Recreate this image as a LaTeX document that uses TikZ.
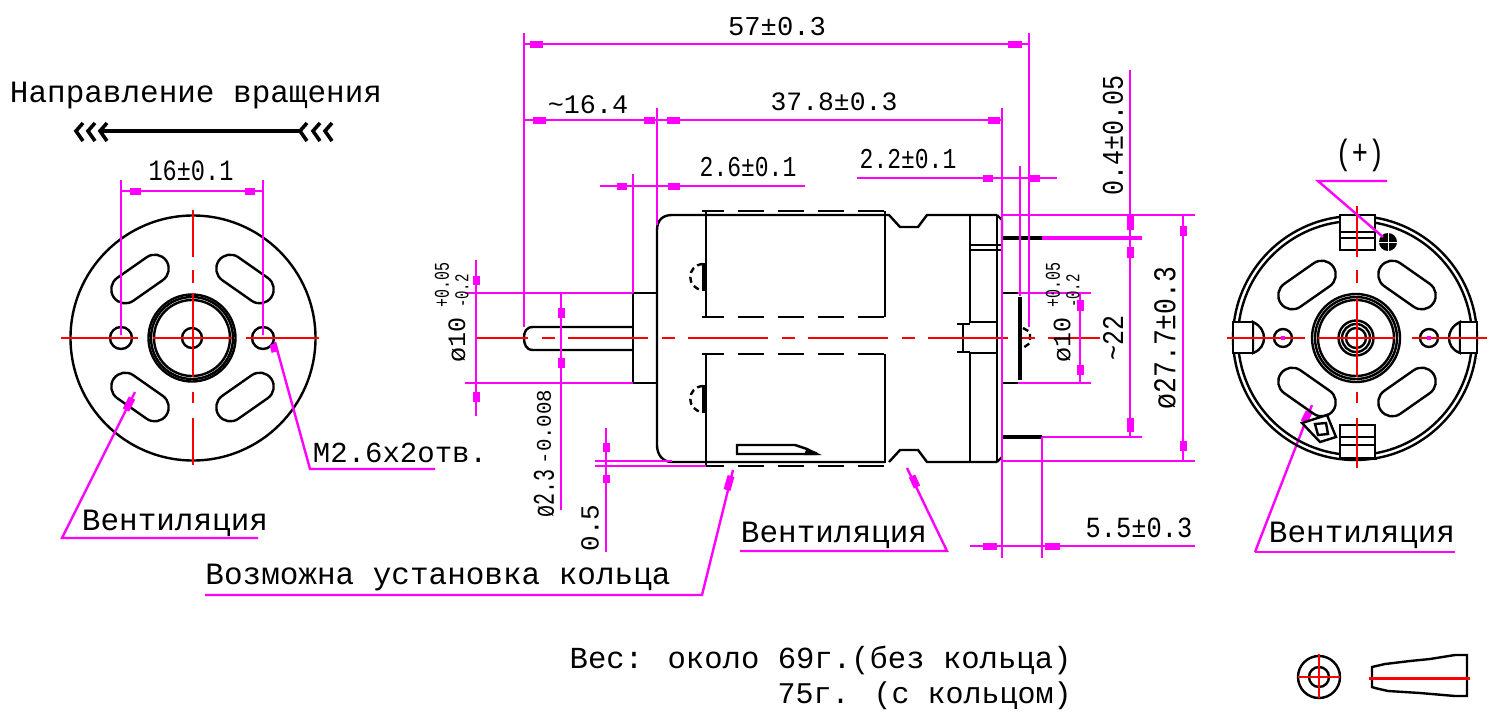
\documentclass[tikz,border=0pt]{standalone}
\usepackage{fontspec}
\setmainfont{Liberation Mono}
\definecolor{pk}{RGB}{255,0,255}
\definecolor{rd}{RGB}{255,0,0}
\newcommand\fsz[1]{\fontsize{#1}{#1}\selectfont}
\newcommand\tallt[2]{\scalebox{1}[#1]{#2}}
\tikzset{
  part/.style={draw=black,line width=1.2pt},
  heavy/.style={draw=black,line width=2.2pt},
  cl/.style={draw=rd,line width=1.2pt},
  dm/.style={draw=pk,line width=1.2pt},
  blob/.style={draw=pk,line width=3.5pt},
  ring/.style={draw=black,line width=1.2pt,dash pattern=on 13pt off 7pt,dash phase=2pt},
  txt/.style={inner sep=0pt,text=black},
}
\newcommand\slotshape[3]{\draw[part,shift={(#1,#2)},rotate=#3,rounded corners=7pt] (-32,-14) rectangle (32,14);}
\begin{document}
\begin{tikzpicture}[x=0.5pt,y=-0.5pt]
\useasboundingbox (0,0) rectangle (1489,713);
\fill[white] (0,0) rectangle (1489,713);
% ---------- rotation arrow
\node[txt] (dirlabel) at (196,96) {\fsz{15.5}Направление вращения};
\draw[line width=2.2pt,black] (100,131)--(302,131);
\foreach \x in {76,88,100,300,313,325}
  \draw[line width=1.8pt,black] (\x+7,123)--(\x,131)--(\x+7,141);
% ---------- left view
\draw[part] (193,338) circle (122.5);
\draw[part] (192,338) circle (43.5);
\draw[part] (192,338) circle (41);
\draw[part] (192,338) circle (38);
\draw[part] (192,338) circle (10);
\draw[part] (121,338) circle (11);
\draw[part] (263,338) circle (11);
\slotshape{140}{279}{35}
\slotshape{245}{279}{-35}
\slotshape{140}{397}{-35}
\slotshape{245}{397}{35}
\foreach \a/\b in {61/138,153/232,246/319} \draw[cl] (\a,338)--(\b,338);
\foreach \a/\b in {210/257,270/283,293/377,392/403,418/465} \draw[cl] (193,\a)--(193,\b);
\draw[dm] (121,180)--(121,335) (263,180)--(263,335) (121,191)--(263,191);
\draw[blob] (130,191)--(141,191) (245,191)--(255,191);
\node[txt] (dimsixteen) at (191,171) {\fsz{11.8}\tallt{1.25}{16±0.1}};
\draw[dm] (258,538)--(62,538)--(135,392);
\draw[blob] (132,398)--(126,410);
\node[txt] (ventA) at (175,523) {\fsz{15.5}Вентиляция};
\draw[dm] (435,469)--(310,469)--(275,342);
\draw[blob] (273,344)--(275,352);
\node[txt] (mlabel) at (400,453) {\fsz{14.5}M2.6x2отв.};
% ---------- motor body
\draw[part] (633,350)--(533,350) .. controls (526,350) and (524,344) .. (524,338) .. controls (524,332) and (526,327) .. (533,327)--(633,327);
\draw[part] (633,293) rectangle (657,383);
\draw[part] (672,215) .. controls (663,215) and (657,220) .. (657,230)--(657,445) .. controls (657,455) and (663,462) .. (672,462)--(885,462);
\draw[part] (672,215)--(889,215)--(900,227)--(918,227)--(927,215)--(997,215);
\draw[part] (889,462)--(900,450)--(918,450)--(927,462)--(997,462);
\draw[part] (706,211)--(706,317) (885,211)--(885,317) (706,354)--(706,467) (885,354)--(885,463);
\draw[ring] (702,211)--(885,211);
\draw[ring] (702,317)--(885,317);
\draw[ring] (702,354)--(885,354);
\draw[ring] (702,466)--(885,466);
\foreach \c in {277,399}{
  \draw[line width=1.8pt] (704,\c-14)--(704,\c+14);
  \draw[part,densely dashed] (703,\c-13) .. controls (686,\c-12) and (686,\c+12) .. (703,\c+13);
}
\draw[part] (737,445)--(795,445)--(807,449)--(817,454)--(737,454)--cycle;
\fill[black] (806,450)--(817,452)--(817,455)--(804,455)--cycle;
\draw[part] (970,215)--(970,322)--(997,322) (970,353)--(970,462) (970,353)--(997,353);
\draw[part] (997,215)--(997,462);
\draw[part] (1002,240)--(1002,457);
\draw[part] (997,215)--(1002,220)--(1002,240);
\draw[part] (997,462)--(1002,457);
\draw[part] (970,245)--(1002,245) (970,250)--(1002,250);
\draw[part] (957,324)--(970,324) (957,352)--(970,352) (963,324)--(963,352);
\draw[part] (1002,293)--(1018,293) (1002,383)--(1018,383);
\draw[heavy] (1020,297)--(1020,380);
\draw[part,densely dashed] (1023,328)--(1030,332)--(1030,343)--(1023,348);
\draw[heavy] (1002,238)--(1042,238) (1002,437)--(1042,437);
% centre line
\foreach \a/\b in {477/528,542/555,568/648,662/675,688/768,782/795,808/888,902/915,928/1008,1022/1035,1048/1100}
  \draw[cl] (\a,338)--(\b,338);
% ---------- dimensions
\draw[dm] (524,33)--(524,327) (1029,33)--(1029,327) (524,44)--(1029,44);
\draw[blob] (530,44)--(543,44) (1008,44)--(1022,44);
\node[txt] (dimfiftyseven) at (777,27) {\fsz{13.6}57±0.3};
\draw[dm] (524,120)--(1002,120) (657,108)--(657,225) (1002,108)--(1002,558);
\draw[blob] (533,120)--(546,120) (644,120)--(655,120) (667,120)--(680,120) (988,120)--(1000,120);
\node[txt] (dimsixteenfour) at (588,105) {\fsz{13.4}\char"7E 16.4};
\node[txt] (dimthirtyseven) at (834,102) {\fsz{13.2}37.8±0.3};
\draw[dm] (600,186)--(805,186) (633,174)--(633,293);
\draw[blob] (617,186)--(627,186) (668,186)--(680,186);
\node[txt] (dimtwosix) at (748,167) {\fsz{11.5}\tallt{1.25}{2.6±0.1}};
\draw[dm] (857,178)--(1057,178) (1020,166)--(1020,296);
\draw[blob] (983,178)--(993,178) (1030,178)--(1040,178);
\node[txt] (dimtwotwo) at (908,159) {\fsz{11.5}\tallt{1.25}{2.2±0.1}};
% right vertical dims
\draw[dm] (1130,70)--(1130,437);
\draw[dm] (1002,215)--(1195,215) (1002,461)--(1195,461) (1042,437)--(1142,437) (1042,437)--(1042,558);
\draw[pk,line width=2.2pt] (1042,238)--(1142,238);
\draw[blob] (1130,216)--(1130,230) (1130,247)--(1130,258) (1130,418)--(1130,432);
\draw[dm] (1183,215)--(1183,461);
\draw[blob] (1183,226)--(1183,236) (1183,441)--(1183,451);
\node[txt,rotate=90] (dimforty) at (1113,135) {\fsz{12.5}\tallt{1.2}{0.4±0.05}};
\node[txt,rotate=90] (dimtwentytwo) at (1113,338) {\fsz{12.5}\tallt{1.2}{\char"7E 22}};
\node[txt,rotate=90] (dimdia) at (1165,338) {\fsz{13.2}\tallt{1.2}{ø27.7±0.3}};
% right phi10
\draw[dm] (1018,293)--(1091,293) (1018,383)--(1091,383) (1080,293)--(1080,383);
\draw[blob] (1080,300)--(1080,311) (1080,365)--(1080,375);
\node[txt,rotate=90] (phiR) at (1062,340) {\fsz{12.5}ø10};
\node[txt,rotate=90] (phiRa) at (1053,285) {\fsz{7.5}\tallt{1.4}{+0.05}};
\node[txt,rotate=90] (phiRb) at (1073,291) {\fsz{7}\tallt{1.4}{-0.2}};
% left phi10
\draw[dm] (476,260)--(476,416) (465,293)--(633,293) (465,383)--(633,383);
\draw[blob] (476,276)--(476,285) (476,392)--(476,402);
\node[txt,rotate=90] (phiL) at (457,340) {\fsz{12.5}ø10};
\node[txt,rotate=90] (phiLa) at (442,285) {\fsz{7.5}\tallt{1.4}{+0.05}};
\node[txt,rotate=90] (phiLb) at (462,291) {\fsz{7}\tallt{1.4}{-0.2}};
% shaft diameter
\draw[dm] (561,293)--(561,510);
\draw[blob] (561,308)--(561,318) (561,358)--(561,368);
\node[txt,rotate=90] (shaftA) at (544,493) {\fsz{10}\tallt{1.5}{ø2.3}};
\node[txt,rotate=90] (shaftB) at (544,427) {\fsz{10.4}-0.008};
% 0.5
\draw[dm] (606,428)--(606,552) (595,461)--(672,461) (595,466)--(706,466);
\draw[blob] (606,443)--(606,452) (606,475)--(606,483);
\node[txt,rotate=90] (dimhalf) at (590,528) {\fsz{13}0.5};
% 5.5
\draw[dm] (970,546)--(1195,546);
\draw[blob] (983,546)--(997,546) (1045,546)--(1060,546);
\node[txt] (dimfivefive) at (1139,528) {\fsz{12.7}\tallt{1.15}{5.5±0.3}};
% leaders
\draw[dm] (740,551)--(947,551)--(907,468);
\draw[blob] (912,476)--(917,487);
\node[txt] (ventB) at (834,535) {\fsz{15.5}Вентиляция};
\draw[dm] (205,595)--(702,595)--(733,470);
\draw[blob] (731,476)--(727,490);
\node[txt] (ringlabel) at (438,577) {\fsz{15.5}Возможна установка кольца};
\draw[dm] (1255,552)--(1455,552);
\draw[dm] (1255,552)--(1312,405);
\draw[blob] (1309,412)--(1304,422);
\node[txt] (ventC) at (1362,535) {\fsz{15.5}Вентиляция};
% ---------- right view
\draw[part] (1355,338) circle (122);
\draw[part] (1355,338) circle (117);
\draw[part] (1356,338) circle (44);
\draw[part] (1356,338) circle (41);
\draw[part] (1356,338) circle (38);
\draw[part] (1356,338) circle (17.5);
\draw[part] (1356,338) circle (14);
\draw[part] (1356,338) circle (10);
\draw[part] (1283,338) circle (9);
\draw[part] (1429,338) circle (9);
\slotshape{1307}{285}{35}
\slotshape{1407}{285}{-35}
\slotshape{1307}{392}{-35}
\slotshape{1407}{392}{35}
\draw[part,fill=white] (1340,215) rectangle (1375,250);
\draw[part] (1340,232)--(1375,232) (1340,238)--(1375,238);
\draw[part,fill=white] (1340,425) rectangle (1375,458);
\draw[part] (1340,437)--(1375,437) (1340,445)--(1375,445) (1337,459)--(1377,459);
\draw[part,fill=white] (1253,322) .. controls (1261,326) and (1264,332) .. (1264,338) .. controls (1264,344) and (1261,350) .. (1253,353)--cycle;
\draw[part,fill=white] (1233,322) rectangle (1253,353);
\draw[part,fill=white] (1460,322) .. controls (1452,326) and (1449,332) .. (1449,338) .. controls (1449,344) and (1452,350) .. (1460,353)--cycle;
\draw[part,fill=white] (1460,322) rectangle (1477,353);
\fill[black] (1388,242) circle (9);
\draw[white,line width=0.5pt] (1379,242)--(1397,242) (1388,233)--(1388,251);
\draw[part,fill=white] (1302,423)--(1327,415)--(1336,437)--(1320,442)--cycle;
\draw[part] (1315,424)--(1326,423)--(1328,434)--(1318,435)--cycle;
\foreach \a/\b in {1227/1305,1318/1395,1412/1487} \draw[cl] (\a,338)--(\b,338);
\foreach \a/\b in {206/257,270/283,298/377,392/403,418/468} \draw[cl] (1357,\a)--(1357,\b);
\draw[blob,line width=1.6pt] (1281,338)--(1285,338) (1427,338)--(1431,338);
\draw[dm] (1387,181)--(1318,181)--(1383,237);
\node[txt] (plus) at (1360,155) {\fsz{13.5}\tallt{1.3}{(+)}};
% ---------- weight note
\node[txt,anchor=east] (weightA) at (1072,660) {\fsz{15.3}Вес: около 69г.(без кольца)};
\node[txt,anchor=east] (weightB) at (1072,696) {\fsz{15}75г. (с кольцом)};
% ---------- bottom right symbols
\draw[part] (1319,677) circle (21);
\draw[part] (1319,677) circle (10);
\draw[cl] (1298,677)--(1340,677) (1319,654)--(1319,698);
\draw[part] (1372,667)--(1385,664)--(1410,661)--(1430,659)--(1455,655)--(1467,655)--(1467,696)--(1455,696)--(1420,693)--(1388,691)--(1375,688)--(1372,687)--cycle;
\draw[rd,line width=1.5pt] (1369,678)--(1470,678);
\end{tikzpicture}
\end{document}
